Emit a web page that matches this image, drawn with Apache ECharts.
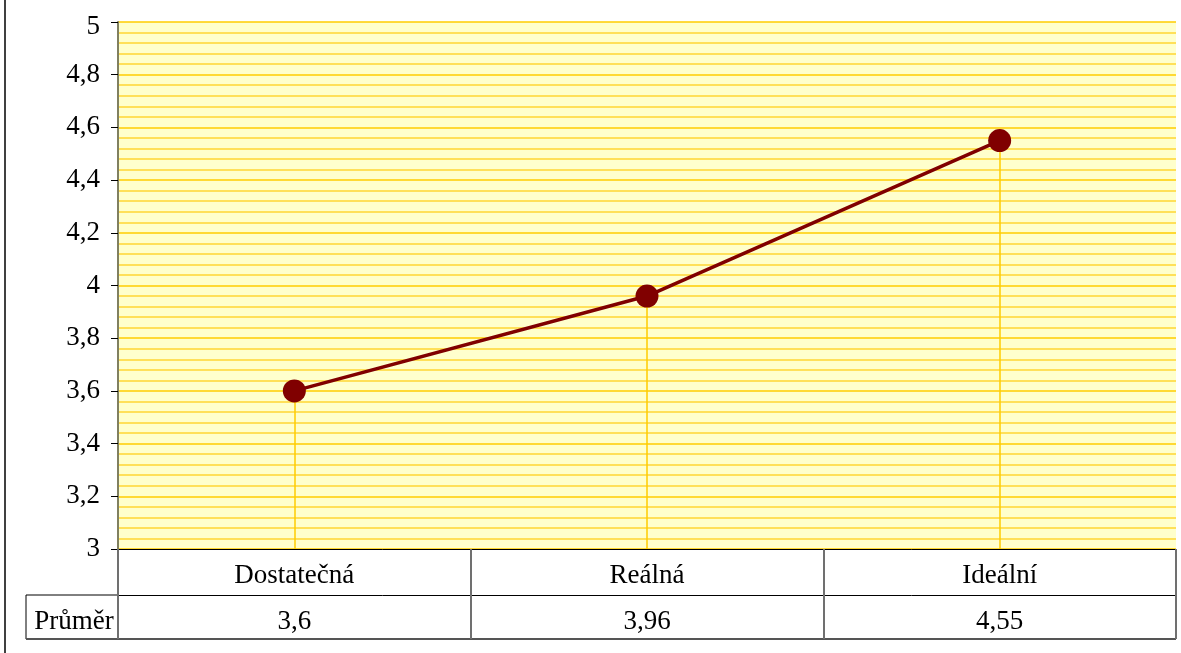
<!DOCTYPE html>
<html>
<head>
<meta charset="utf-8">
<script src="https://cdn.jsdelivr.net/npm/echarts@6/dist/echarts.min.js"></script>
<style>
    html, body { margin: 0; padding: 0; background: #fff; }
    #main { width: 1181px; height: 653px; }
</style>
</head>
<body>
<div id="main"></div>
<script>
var categories = ['Dostatečná', 'Reálná', 'Ideální'];
var prumer = [3.6, 3.96, 4.55];
var rowName = 'Průměr';
var yMin = 3, yMax = 5, yStep = 0.2;

function comma(v) {
    return String(Math.round(v * 100) / 100).replace('.', ',');
}

var font = 'Liberation Serif, Times New Roman, serif';
var fs = 27;
// grid box (px)
var L = 118, T = 22, R = 1176, B = 549, rowH = 45;

var myChart = echarts.init(document.getElementById('main'));
var option = {
    animation: false,
    textStyle: { fontFamily: font },
    grid: {
        left: L, top: T, right: 1181 - R, bottom: 653 - B,
        show: true,
        backgroundColor: '#FFFFCC',
        borderWidth: 0
    },
    xAxis: [{
        type: 'category',
        data: categories,
        boundaryGap: true,
        axisLine: { lineStyle: { color: '#000', width: 1 } },
        axisTick: { show: true, length: rowH * 2, lineStyle: { color: '#707070', width: 2 } },
        axisLabel: { color: '#000', fontSize: fs, fontFamily: font, margin: 13 },
        splitLine: { show: false }
    }, {
        type: 'category',
        position: 'bottom',
        offset: rowH + 1,
        data: prumer.map(comma),
        axisLine: { lineStyle: { color: '#000', width: 1 } },
        axisTick: { show: false },
        axisLabel: { color: '#000', fontSize: fs, fontFamily: font, margin: 13 }
    }],
    yAxis: {
        type: 'value',
        min: yMin,
        max: yMax,
        interval: yStep,
        axisLine: { show: true, lineStyle: { color: '#808060', width: 2 } },
        axisTick: { show: true, length: 7, lineStyle: { color: '#000', width: 1 } },
        axisLabel: {
            color: '#000', fontSize: fs, fontFamily: font, margin: 18,
            formatter: function (v) {
                return v === yMax ? '{t|' + comma(v) + '}' : comma(v);
            },
            rich: { t: { fontSize: fs, fontFamily: font, color: '#000', padding: [10, 0, 0, 0] } }
        },
        splitLine: { show: true, lineStyle: { color: '#FFCC00', width: 1.5 } },
        minorTick: { show: false, splitNumber: 5 },
        minorSplitLine: { show: true, lineStyle: { color: '#FFD633', width: 1.5 } }
    },
    series: [{
        name: rowName,
        type: 'line',
        data: prumer,
        symbol: 'circle',
        symbolSize: 23,
        lineStyle: { color: '#800000', width: 3.5 },
        itemStyle: { color: '#800000' },
        z: 5,
        markLine: {
            silent: true,
            symbol: 'none',
            label: { show: false },
            lineStyle: { color: '#FFCC00', width: 1.5, type: 'solid' },
            data: prumer.map(function (v, i) {
                return [{ coord: [categories[i], v] }, { coord: [categories[i], yMin] }];
            })
        }
    }],
    graphic: [
        // outer left frame
        { type: 'line', shape: { x1: 5, y1: 0, x2: 5, y2: 653 }, style: { stroke: '#404040', lineWidth: 2 } },
        // row label cell
        { type: 'line', shape: { x1: 26, y1: B + rowH + 1, x2: L, y2: B + rowH + 1 }, style: { stroke: '#000', lineWidth: 1 } },
        { type: 'line', shape: { x1: 26, y1: B + rowH + 1, x2: 26, y2: B + rowH * 2 }, style: { stroke: '#000', lineWidth: 1 } },
        { type: 'line', shape: { x1: 26, y1: B + rowH * 2, x2: R, y2: B + rowH * 2 }, style: { stroke: '#555', lineWidth: 2 } },
        { type: 'line', shape: { x1: R, y1: B, x2: R, y2: B + rowH * 2 }, style: { stroke: '#000', lineWidth: 1 } },
        {
            type: 'text', x: 74, y: B + rowH + 28,
            style: { text: rowName, fontSize: fs, fontFamily: font, fill: '#000', textAlign: 'center', textVerticalAlign: 'middle' }
        }
    ]
};
myChart.setOption(option);
window.onresize = function () {
    myChart.resize();
};
</script>
</body>
</html>
